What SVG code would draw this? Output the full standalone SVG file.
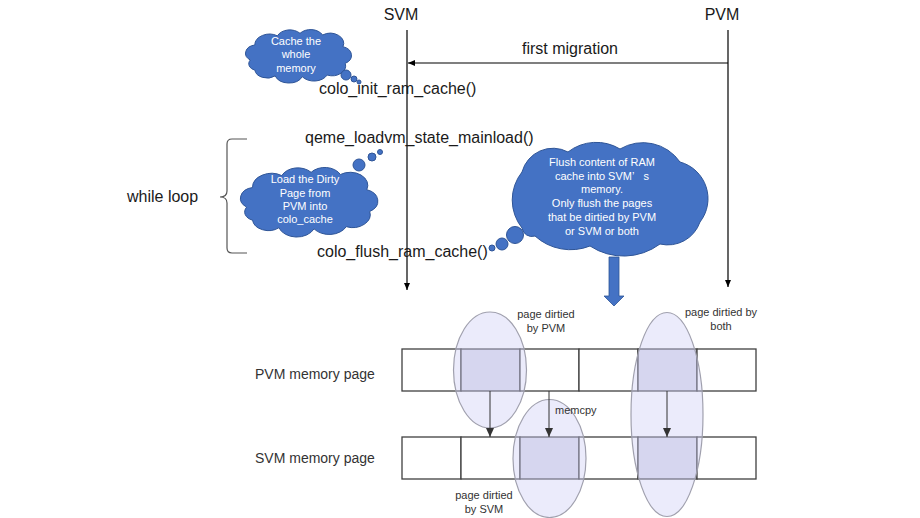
<svg xmlns="http://www.w3.org/2000/svg" width="920" height="518" viewBox="0 0 920 518">
<style>
.t{font-family:"Liberation Sans",Arial,sans-serif;fill:#1a1a1a}
.big{font-size:16px}
.mid{font-size:14px;fill:#333}
.sm{font-size:11px;fill:#333}
.ct{font-family:"Liberation Sans",Arial,sans-serif;font-size:11px;fill:#fff;text-anchor:middle}
.cloud{fill:#4472c4;stroke:#2f5597;stroke-width:1}
.ln{stroke:#000;stroke-width:1.2;fill:none}
.cell{fill:#fff;stroke:#404040;stroke-width:1.3}
.dirty{fill:#dcdcec;stroke:#404040;stroke-width:1.3}
.ell{fill:#ccccf5;fill-opacity:0.4;stroke:#a0a0ae;stroke-width:1.2}
.ar{stroke:#333;stroke-width:1;fill:none}
</style>
<defs>
<marker id="ah" markerWidth="8" markerHeight="8" refX="7" refY="4" orient="auto" markerUnits="userSpaceOnUse">
<path d="M0,1 L7,4 L0,7 Z" fill="#000"/>
</marker>
<marker id="ah2" markerWidth="10" markerHeight="10" refX="9" refY="5" orient="auto" markerUnits="userSpaceOnUse">
<path d="M0,1 L9,5 L0,9 Z" fill="#333"/>
</marker>
<path id="cloudp" vector-effect="non-scaling-stroke" d="M10,38 A10,10 0 0 1 14,20 A13,13 0 0 1 34,9 A12,12 0 0 1 54,6 A12,12 0 0 1 74,8 A12,12 0 0 1 92,22 A11,11 0 0 1 94,42 A12,12 0 0 1 78,56 A13,13 0 0 1 56,58 A13,13 0 0 1 32,57 A11,11 0 0 1 14,50 A8,8 0 0 1 10,38 Z"/>
</defs>

<g id="lifelines">
<text class="t big" x="401" y="20" text-anchor="middle">SVM</text>
<text class="t big" x="722" y="20" text-anchor="middle">PVM</text>
<line class="ln" x1="407" y1="30" x2="407" y2="290" marker-end="url(#ah)"/>
<line class="ln" x1="728" y1="30" x2="728" y2="287" marker-end="url(#ah)"/>
</g>

<g id="calls">
<text class="t big" x="319" y="94">colo_init_ram_cache()</text>
<text class="t big" x="305" y="143">qeme_loadvm_state_mainload()</text>
<text class="t big" x="317" y="257">colo_flush_ram_cache()</text>
</g>

<g id="while-loop">
<path d="M247,139 L232,139 Q227,139 227,144 L227,191 Q227,197 220,197 Q227,197 227,203 L227,248 Q227,253 232,253 L247,253" fill="none" stroke="#555" stroke-width="1.2"/>
<text class="t big" x="127" y="202">while loop</text>
</g>

<g id="cloud-cache">
<use href="#cloudp" class="cloud" transform="translate(239,28.3) scale(1.13,0.835)"/>
<circle class="cloud" cx="346" cy="75" r="5"/>
<circle class="cloud" cx="354" cy="79" r="3"/>
<circle class="cloud" cx="359" cy="82" r="2"/>
<text class="ct" x="296" y="45">Cache the</text>
<text class="ct" x="296" y="58">whole</text>
<text class="ct" x="296" y="72">memory</text>
</g>

<g id="cloud-load">
<use href="#cloudp" class="cloud" transform="translate(232,165.8) scale(1.465,1.087)"/>
<circle class="cloud" cx="359" cy="165" r="6"/>
<circle class="cloud" cx="372" cy="157" r="4"/>
<circle class="cloud" cx="380" cy="152" r="2.5"/>
<text class="ct" x="305" y="183">Load the Dirty</text>
<text class="ct" x="305" y="197">Page from</text>
<text class="ct" x="305" y="210">PVM into</text>
<text class="ct" x="305" y="223">colo_cache</text>
</g>

<g id="cloud-flush">
<path class="cloud" d="M522,228 A45,45 0 0 1 522,172 A32,32 0 0 1 568,152 A46,46 0 0 1 620,149 A45,45 0 0 1 680,162 A38,38 0 0 1 700,222 A34,34 0 0 1 660,244 A61,61 0 0 1 590,246 A53,53 0 0 1 535,236 A10,10 0 0 1 522,228 Z"/>
<circle class="cloud" cx="515" cy="235" r="8.5"/>
<circle class="cloud" cx="502" cy="244" r="6"/>
<circle class="cloud" cx="492" cy="248" r="3"/>
<text class="ct" x="602" y="166">Flush content of RAM</text>
<text class="ct" x="602" y="180">cache into SVM’&#160;&#160;&#160;s</text>
<text class="ct" x="602" y="193">memory.</text>
<text class="ct" x="602" y="207">Only flush the pages</text>
<text class="ct" x="602" y="221">that be dirtied by PVM</text>
<text class="ct" x="602" y="235">or SVM or both</text>
</g>

<g id="pvm-memory">
<text class="t mid" x="255" y="379">PVM memory page</text>
<rect class="cell" x="402" y="349" width="59" height="42"/>
<rect class="dirty" x="461" y="349" width="59" height="42"/>
<rect class="cell" x="520" y="349" width="59" height="42"/>
<rect class="cell" x="579" y="349" width="59" height="42"/>
<rect class="dirty" x="638" y="349" width="59" height="42"/>
<rect class="cell" x="697" y="349" width="59" height="42"/>
</g>

<g id="svm-memory">
<text class="t mid" x="255" y="463">SVM memory page</text>
<rect class="cell" x="402" y="437" width="59" height="42"/>
<rect class="cell" x="461" y="437" width="59" height="42"/>
<rect class="dirty" x="520" y="437" width="59" height="42"/>
<rect class="cell" x="579" y="437" width="59" height="42"/>
<rect class="dirty" x="638" y="437" width="59" height="42"/>
<rect class="cell" x="697" y="437" width="59" height="42"/>
</g>

<g id="dirty-pvm">
<ellipse class="ell" cx="490" cy="370" rx="36.5" ry="58"/>
<text class="t sm" x="546" y="318" text-anchor="middle">page dirtied</text>
<text class="t sm" x="546" y="332" text-anchor="middle">by PVM</text>
</g>
<g id="dirty-svm">
<ellipse class="ell" cx="549.5" cy="458.5" rx="36.5" ry="59"/>
<text class="t sm" x="484" y="499" text-anchor="middle">page dirtied</text>
<text class="t sm" x="484" y="513" text-anchor="middle">by SVM</text>
</g>
<g id="dirty-both">
<ellipse class="ell" cx="667" cy="414.5" rx="36" ry="102"/>
<text class="t sm" x="721" y="316" text-anchor="middle">page dirtied by</text>
<text class="t sm" x="721" y="330" text-anchor="middle">both</text>
</g>

<g id="connectors">
<line class="ln" x1="728" y1="63" x2="408" y2="63" marker-end="url(#ah)"/>
<text class="t big" x="570" y="54" text-anchor="middle">first migration</text>
<line class="ar" x1="490" y1="391" x2="490" y2="437" marker-end="url(#ah2)"/>
<line class="ar" x1="549" y1="391" x2="549" y2="437" marker-end="url(#ah2)"/>
<line class="ar" x1="667" y1="391" x2="667" y2="437" marker-end="url(#ah2)"/>
<text class="t sm" x="555" y="414">memcpy</text>
<path id="flush-arrow" d="M609,257 L619,257 L619,296 L624,296 L614,306 L604,296 L609,296 Z" fill="#4472c4" stroke="#2f5597" stroke-width="0.8"/>
</g>
</svg>
